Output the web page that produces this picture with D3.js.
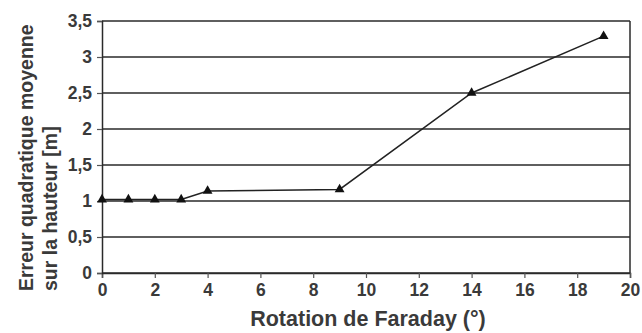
<!DOCTYPE html>
<html>
<head>
<meta charset="utf-8">
<script src="https://cdn.jsdelivr.net/npm/d3@7/dist/d3.min.js"></script>
<style>
  html, body { margin: 0; padding: 0; background: #fff; }
  svg text { font-family: "Liberation Sans", Arial, sans-serif; font-weight: bold; fill: #3a3a3a; }
</style>
</head>
<body>
<svg id="chart" width="642" height="333"></svg>
<script>
const rotation = [0, 1, 2, 3, 4, 9, 14, 19];
const erreur = [1.02, 1.02, 1.02, 1.02, 1.14, 1.16, 2.5, 3.29];
const xTicks = [0, 2, 4, 6, 8, 10, 12, 14, 16, 18, 20];
const yTicks = [0, 0.5, 1, 1.5, 2, 2.5, 3, 3.5];
const yTitle = ["Erreur quadratique moyenne", "sur la hauteur [m]"];
const xTitle = "Rotation de Faraday (°)";

const svg = d3.select("#chart");
const m = { left: 102, right: 630, top: 21, bottom: 273 };
const x = d3.scaleLinear().domain([0, 20]).range([m.left, m.right]);
const y = d3.scaleLinear().domain([0, 3.5]).range([m.bottom, m.top]);
const fmt = d => String(d).replace(".", ",");

// gridlines
svg.append("g").selectAll("line").data(yTicks).join("line")
  .attr("x1", m.left).attr("x2", m.right)
  .attr("y1", d => y(d)).attr("y2", d => y(d))
  .attr("stroke", "#2a2a2a").attr("stroke-width", 1.5);

// right border
svg.append("line").attr("x1", m.right).attr("x2", m.right)
  .attr("y1", m.top).attr("y2", m.bottom)
  .attr("stroke", "#2a2a2a").attr("stroke-width", 1.5);

// axes
const xAxis = svg.append("g").attr("transform", `translate(0,${m.bottom})`)
  .call(d3.axisBottom(x).tickValues(xTicks).tickFormat(fmt).tickSize(5).tickPadding(6));
const yAxis = svg.append("g").attr("transform", `translate(${m.left},0)`)
  .call(d3.axisLeft(y).tickValues(yTicks).tickFormat(fmt).tickSize(5).tickPadding(5));
[xAxis, yAxis].forEach(a => {
  a.select(".domain").attr("stroke", "#2a2a2a").attr("stroke-width", 1.5);
  a.selectAll(".tick line").attr("stroke", "#555").attr("stroke-width", 1.2);
  a.selectAll("text").attr("font-size", 17.5).attr("font-family", null).style("fill", "#3a3a3a");
});

// line
svg.append("path").datum(rotation.map((r, i) => [r, erreur[i]]))
  .attr("fill", "none").attr("stroke", "#222").attr("stroke-width", 1.5)
  .attr("d", d3.line().x(d => x(d[0])).y(d => y(d[1])));

// markers
svg.append("g").selectAll("path").data(rotation.map((r, i) => [r, erreur[i]])).join("path")
  .attr("transform", d => `translate(${x(d[0])},${y(d[1])})`)
  .attr("d", d3.symbol().type(d3.symbolTriangle).size(42))
  .attr("fill", "#111");

// titles
svg.append("text").attr("x", 368).attr("y", 326)
  .attr("text-anchor", "middle").attr("font-size", 21.5).text(xTitle);
const yt = svg.append("text").attr("transform", "rotate(-90)").attr("text-anchor", "start")
  .attr("font-size", 19.5);
yt.append("tspan").attr("x", -291).attr("y", 33).text(yTitle[0]);
yt.append("tspan").attr("x", -291).attr("y", 57).text(yTitle[1]);
</script>
</body>
</html>
